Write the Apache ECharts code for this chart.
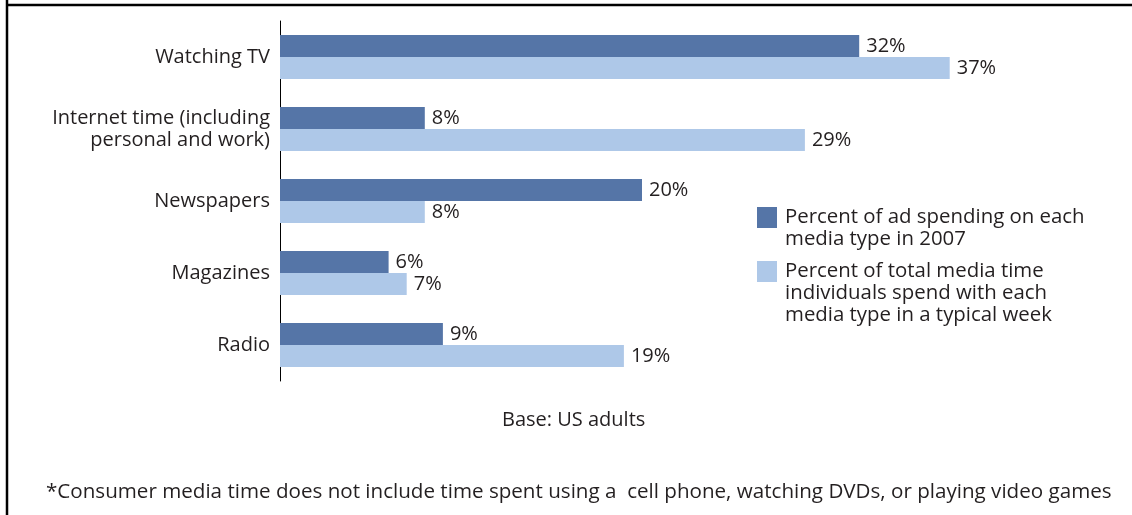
<!DOCTYPE html>
<html>
<head>
<meta charset="utf-8">
<script src="https://cdn.jsdelivr.net/npm/echarts@6/dist/echarts.min.js"></script>
<style>
html,body{margin:0;padding:0;background:#fff;}
#c{width:1132px;height:515px;}
</style>
</head>
<body>
<div id="c"></div>
<script>
var categories = ['Watching TV', 'Internet time (including\npersonal and work)', 'Newspapers', 'Magazines', 'Radio'];
var adSpending = [32, 8, 20, 6, 9];
var mediaTime = [37, 29, 8, 7, 19];
var seriesNames = [
  'Percent of ad spending on each\nmedia type in 2007',
  'Percent of total media time\nindividuals spend with each\nmedia type in a typical week'
];
var baseText = 'Base: US adults';
var footnote = '*Consumer media time does not include time spent using a  cell phone, watching DVDs, or playing video games';

var FONT = 'Open Sans';
var TXT = '#231f20';
var DARK = '#5575a7';
var LIGHT = '#aec8e8';

var chart = echarts.init(document.getElementById('c'), null, {renderer: 'canvas'});

function legendFor(i, top) {
  var lines = seriesNames[i].split('\n').length;
  var lead = new Array(lines).join('\n');
  return {
    data: [seriesNames[i]],
    orient: 'vertical',
    left: 757,
    top: top,
    padding: 0,
    itemWidth: 20,
    itemHeight: 21,
    icon: 'rect',
    selectedMode: false,
    formatter: function (name) { return lead + name; },
    textStyle: {
      fontFamily: FONT, fontSize: 20.4, color: TXT, lineHeight: 22,
      padding: [0, 0, 0, 3]
    }
  };
}

chart.setOption({
  animation: false,
  textStyle: {fontFamily: FONT},
  graphic: [
    {type: 'line', shape: {x1: 7, y1: 0, x2: 7, y2: 515}, style: {stroke: '#000', lineWidth: 2.5}},
    {type: 'line', shape: {x1: 6, y1: 5, x2: 1132, y2: 5}, style: {stroke: '#000', lineWidth: 2.5}}
  ],
  title: [
    {text: baseText, left: 497, top: 405,
     textStyle: {fontFamily: FONT, fontSize: 20, fontWeight: 'normal', color: TXT}},
    {text: footnote, left: 41, top: 477,
     textStyle: {fontFamily: FONT, fontSize: 20.6, fontWeight: 'normal', color: TXT}}
  ],
  legend: [legendFor(0, 184.5), legendFor(1, 216.5)],
  grid: {left: 280, top: 21, width: 724, height: 360, containLabel: false},
  xAxis: {
    type: 'value', min: 0, max: 40,
    show: false
  },
  yAxis: {
    type: 'category', data: categories, inverse: true,
    axisLine: {show: true, lineStyle: {color: '#000', width: 1}},
    axisTick: {show: false},
    axisLabel: {fontFamily: FONT, fontSize: 20, color: TXT, margin: 10, lineHeight: 22, align: 'right'}
  },
  series: [
    {
      name: seriesNames[0], type: 'bar', data: adSpending,
      barWidth: 22, barGap: '0%',
      itemStyle: {color: DARK},
      label: {show: true, position: 'right', distance: 7, formatter: '{c}%',
              fontFamily: FONT, fontSize: 20, color: TXT}
    },
    {
      name: seriesNames[1], type: 'bar', data: mediaTime,
      barWidth: 22, barGap: '0%',
      itemStyle: {color: LIGHT},
      label: {show: true, position: 'right', distance: 7, formatter: '{c}%',
              fontFamily: FONT, fontSize: 20, color: TXT}
    }
  ]
});
</script>
</body>
</html>
